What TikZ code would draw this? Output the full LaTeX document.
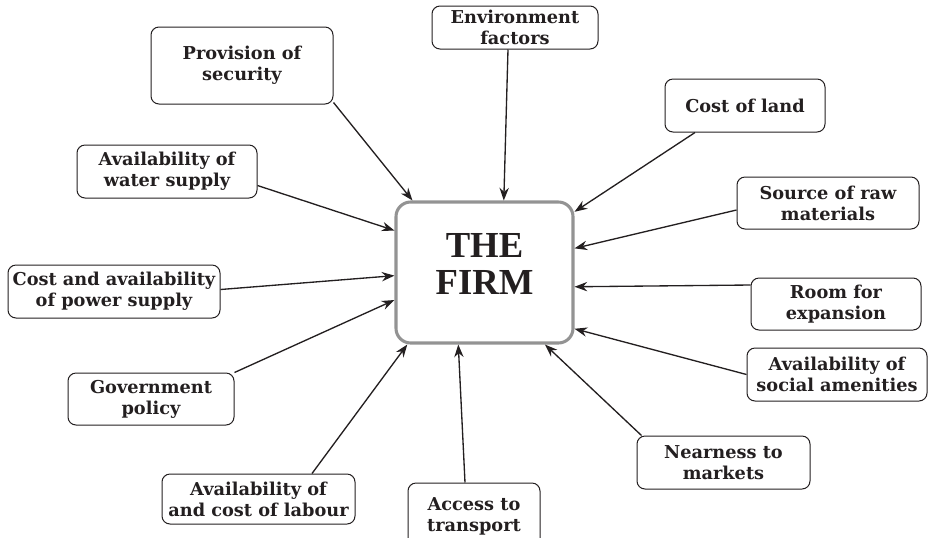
\documentclass[tikz,border=0pt]{standalone}
\usepackage{fontspec}
\setmainfont{DejaVu Serif}
\newfontfamily\firmfont{Liberation Serif}
\usetikzlibrary{arrows.meta,calc}
\definecolor{ink}{HTML}{231F20}
\definecolor{rim}{HTML}{939393}

\begin{document}
\begin{tikzpicture}[x=0.75pt,y=-0.75pt,
    factor/.style={draw=ink,line width=.75pt,rounded corners=6pt,align=center,text=ink,
      inner sep=0pt,font=\bfseries\fontsize{13.3}{15.6}\selectfont},
    firmbox/.style={draw=rim,line width=2.3pt,rounded corners=11pt,align=center,text=ink,
      minimum width=132.75pt,minimum height=105.75pt,text depth=12.8pt,
      font=\firmfont\bfseries\fontsize{27.5}{28}\selectfont},
    pull/.style={draw=ink,line width=1pt,-{Stealth[length=9.5pt,width=7pt]}}]
  \useasboundingbox (0,0) rectangle (933,537);
  \clip (0,0) rectangle (933,537);

  % the firm in the middle
  \node[firmbox] (firm) at (484.5,272.5) {THE\\FIRM};

  % location factors round it
  \node[factor,minimum width=136.5pt,minimum height=57.75pt] (sec) at (242,65.5) {Provision of\\security};
  \node[factor,minimum width=124.5pt,minimum height=32.25pt] (env) at (515,27.5) {Environment\\factors};
  \node[factor,minimum width=120pt,minimum height=39.75pt] (land) at (745,105.5) {Cost of land};
  \node[factor,minimum width=135pt,minimum height=39.75pt] (water) at (167,171.5) {Availability of\\water supply};
  \node[factor,minimum width=136.5pt,minimum height=39pt] (raw) at (828,203) {Source of raw\\materials};
  \node[factor,minimum width=159pt,minimum height=39.75pt] (power) at (114,291.5) {Cost and availability\\of power supply};
  \node[factor,minimum width=127.5pt,minimum height=39pt] (room) at (836,304) {Room for\\expansion};
  \node[factor,minimum width=124.5pt,minimum height=39pt] (gov) at (151,399) {Government\\policy};
  \node[factor,minimum width=135pt,minimum height=39.75pt] (soc) at (837,374.5) {Availability of\\social amenities};
  \node[factor,minimum width=129.75pt,minimum height=39.75pt] (near) at (723.5,462.5) {Nearness to\\markets};
  \node[factor,minimum width=144.75pt,minimum height=37.5pt] (lab) at (258.5,499) {Availability of\\and cost of labour};
  \node[factor,minimum width=99pt,minimum height=50.25pt] (trans) at (474,516.5) {Access to\\transport};

  % every factor pulls on the firm
  \foreach \src/\dx/\dy/\tip in {sec.south east/0/-2/135, env.south/-7/0/75,
      land.south/-50/0/34, water.east/0/14/155, raw.west/0/7/15, power.east/0/-2/182,
      room.west/0/-19/-9, gov.north east/0/0/-163, soc.west/0/0/-32,
      near.north west/5/0/-50, lab.north/53.5/0/-137, trans.north/-9/0/-110}
    \draw[pull] ($(\src)+(\dx,\dy)$) -- (firm.\tip);
\end{tikzpicture}
\end{document}
